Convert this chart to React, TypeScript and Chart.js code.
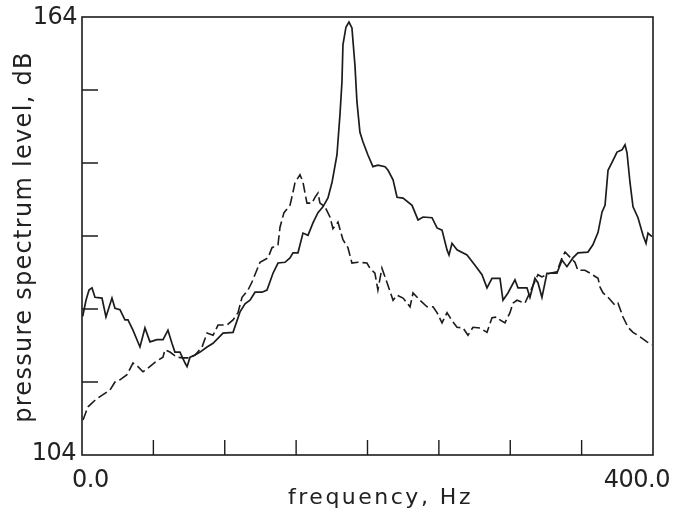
import React, { useEffect, useRef } from "react";
import { Chart, registerables } from "chart.js";

Chart.register(...registerables);

// Solid curve
const solidFreq = [0.5, 2.8, 4.9, 7.0, 9.1, 14.0, 16.8, 21.0, 23.1, 26.6, 30.1, 32.2, 35.7, 40.6, 44.1, 47.6, 52.5, 56.8, 60.2, 63.0, 65.1, 68.6, 72.2, 73.6, 75.7, 79.2, 82.7, 87.6, 91.8, 98.8, 105.8, 110.7, 114.2, 117.7, 121.2, 126.1, 129.6, 133.8, 137.3, 142.2, 145.7, 147.8, 151.3, 154.8, 158.3, 161.8, 165.3, 168.8, 172.3, 175.2, 178.6, 180.7, 182.1, 182.8, 184.9, 187.0, 189.1, 191.2, 192.6, 194.7, 196.8, 200.3, 203.8, 207.3, 212.3, 214.4, 217.9, 220.7, 224.9, 231.2, 235.4, 238.9, 245.2, 248.7, 252.2, 255.7, 257.1, 259.2, 262.7, 269.7, 275.3, 280.2, 283.7, 287.2, 292.8, 294.9, 298.4, 303.3, 305.4, 311.7, 313.8, 317.3, 319.4, 322.2, 325.7, 332.7, 336.2, 339.7, 343.9, 347.4, 354.4, 357.9, 361.5, 364.3, 366.4, 368.5, 371.3, 374.8, 378.3, 380.4, 381.8, 383.9, 386.0, 389.5, 393.0, 395.1, 396.5, 399.3];
const solidLevel = [123.0, 125.2, 126.6, 126.9, 125.6, 125.5, 122.9, 125.5, 124.1, 123.9, 122.5, 122.5, 121.1, 118.8, 121.4, 119.5, 119.8, 119.8, 121.1, 119.3, 118.1, 118.1, 116.6, 116.1, 117.4, 117.7, 118.1, 118.8, 119.3, 120.7, 120.8, 123.6, 124.7, 125.2, 126.3, 126.3, 126.6, 128.9, 130.3, 130.4, 131.0, 131.7, 131.7, 134.4, 134.1, 135.8, 137.2, 138.0, 139.2, 141.4, 145.1, 150.6, 155.1, 160.2, 162.6, 163.3, 162.5, 157.4, 152.4, 148.2, 146.9, 145.1, 143.5, 143.7, 143.5, 143.0, 141.7, 139.3, 139.2, 138.2, 136.2, 136.6, 136.5, 135.1, 134.8, 132.1, 131.4, 133.0, 132.1, 131.4, 130.0, 128.7, 126.9, 128.2, 128.2, 125.2, 126.2, 128.0, 126.9, 126.9, 125.6, 128.2, 127.6, 125.6, 128.9, 128.9, 130.7, 129.8, 131.0, 131.7, 131.8, 132.8, 134.5, 137.3, 138.2, 143.0, 144.1, 145.5, 145.8, 146.5, 145.4, 141.3, 138.0, 136.5, 134.1, 133.0, 134.4, 133.9];

// Dashed curve
const dashedFreq = [0.7, 2.8, 4.2, 9.1, 12.6, 19.6, 23.1, 26.6, 31.5, 35.7, 39.2, 42.7, 46.2, 51.1, 56.7, 58.1, 61.6, 66.5, 70.8, 75.7, 79.2, 84.1, 87.6, 91.8, 95.3, 101.6, 105.8, 109.3, 112.1, 116.3, 119.1, 124.7, 130.3, 133.1, 137.3, 138.7, 141.5, 145.7, 147.8, 149.2, 152.7, 154.8, 156.2, 157.6, 161.1, 163.2, 165.3, 166.7, 170.2, 173.7, 175.8, 179.3, 182.8, 186.3, 189.1, 193.3, 199.6, 201.7, 205.2, 207.3, 210.1, 213.7, 217.9, 220.7, 224.9, 229.8, 231.9, 236.8, 241.7, 245.9, 248.7, 252.2, 255.7, 259.2, 262.7, 266.9, 270.4, 273.9, 278.8, 283.7, 287.2, 290.7, 292.8, 296.3, 299.8, 301.9, 304.7, 310.3, 313.8, 319.4, 322.2, 327.8, 332.7, 336.2, 338.4, 341.8, 345.3, 347.4, 352.3, 355.9, 361.5, 362.9, 365.0, 368.5, 373.4, 375.5, 379.0, 382.5, 386.0, 390.9, 395.8, 399.3];
const dashedLevel = [108.8, 109.9, 110.6, 111.5, 112.0, 112.9, 114.0, 114.3, 115.0, 116.6, 116.1, 115.4, 115.9, 116.7, 117.4, 118.4, 118.1, 117.4, 117.3, 117.3, 117.7, 118.8, 120.7, 120.4, 121.8, 121.8, 122.5, 123.5, 125.6, 126.6, 127.7, 130.4, 131.0, 132.4, 132.8, 135.2, 137.2, 138.2, 140.0, 141.3, 142.4, 141.4, 139.9, 138.5, 138.5, 139.3, 139.9, 138.5, 138.0, 136.6, 135.0, 135.9, 133.5, 132.4, 130.3, 130.4, 130.3, 129.6, 128.9, 126.6, 129.6, 127.6, 125.2, 125.9, 125.5, 124.3, 126.2, 125.2, 124.3, 124.3, 123.5, 122.1, 123.5, 122.4, 121.5, 121.4, 120.4, 121.5, 121.4, 120.8, 122.8, 122.9, 122.5, 122.1, 123.5, 124.8, 125.2, 124.8, 126.3, 128.7, 128.4, 128.9, 129.1, 131.0, 131.8, 131.1, 130.4, 129.3, 129.3, 128.9, 128.2, 127.0, 126.2, 125.6, 124.5, 124.8, 122.9, 121.5, 120.8, 120.2, 119.5, 119.1];

// Axis ticks and labels
const xTickValues = [50, 100, 150, 200, 250, 300, 350];
const yTickValues = [114, 124, 134, 144, 154];
const xMin = 0;
const xMax = 400;
const yMin = 104;
const yMax = 164;
const xMinLabel = "0.0";
const xMaxLabel = "400.0";
const yMinLabel = "104";
const yMaxLabel = "164";
const xTitle = "frequency, Hz";
const yTitle = "pressure spectrum level, dB";

const toPoints = (xs: number[], ys: number[]) => xs.map((v, i) => ({ x: v, y: ys[i] }));

const INK = "#1c1c1c";

const decor = {
  id: "decor",
  afterDraw(chart: any) {
    const { ctx, chartArea: a, scales } = chart;
    const x = scales.x;
    const y = scales.y;
    ctx.save();
    ctx.strokeStyle = INK;
    ctx.lineWidth = 1.6;
    ctx.strokeRect(a.left, a.top, a.right - a.left, a.bottom - a.top);
    ctx.lineWidth = 1.4;
    ctx.beginPath();
    xTickValues.forEach((v) => {
      const px = x.getPixelForValue(v);
      ctx.moveTo(px, a.bottom);
      ctx.lineTo(px, a.bottom - 15);
    });
    yTickValues.forEach((v) => {
      const py = y.getPixelForValue(v);
      ctx.moveTo(a.left, py);
      ctx.lineTo(a.left + 16, py);
    });
    ctx.stroke();

    ctx.fillStyle = "#222";
    ctx.font = '24px "DejaVu Sans"';
    (ctx as any).letterSpacing = "-0.5px";
    ctx.textBaseline = "middle";
    ctx.textAlign = "right";
    ctx.fillText(yMaxLabel, a.left - 5, y.getPixelForValue(yMax) + 1);
    ctx.fillText(yMinLabel, a.left - 6, y.getPixelForValue(yMin) - 1);
    ctx.textBaseline = "alphabetic";
    ctx.textAlign = "left";
    ctx.fillText(xMinLabel, x.getPixelForValue(xMin) - 10, a.bottom + 32);
    ctx.textAlign = "right";
    ctx.fillText(xMaxLabel, x.getPixelForValue(xMax) + 17, a.bottom + 32);

    // x title
    ctx.font = '22px "DejaVu Sans"';
    (ctx as any).letterSpacing = "2.5px";
    ctx.textAlign = "center";
    ctx.fillText(xTitle, (a.left + a.right) / 2 + 13, a.bottom + 49);

    // y title
    ctx.font = '24px "DejaVu Sans"';
    (ctx as any).letterSpacing = "1.3px";
    ctx.translate(31, (a.top + a.bottom) / 2 + 1);
    ctx.rotate(-Math.PI / 2);
    ctx.textAlign = "center";
    ctx.fillText(yTitle, 0, 0);
    ctx.restore();
  },
};

export default function App() {
  const ref = useRef<HTMLCanvasElement | null>(null);
  useEffect(() => {
    if (!ref.current) return;
    const chart = new Chart(ref.current, {
      type: "line",
      data: {
        datasets: [
          {
            label: "solid",
            data: toPoints(solidFreq, solidLevel),
            borderColor: INK,
            borderWidth: 1.7,
            pointRadius: 0,
            tension: 0,
            fill: false,
          },
          {
            label: "dashed",
            data: toPoints(dashedFreq, dashedLevel),
            borderColor: INK,
            borderWidth: 1.6,
            borderDash: [10, 4],
            pointRadius: 0,
            tension: 0,
            fill: false,
          },
        ],
      },
      options: {
        animation: false,
        responsive: false,
        events: [],
        layout: { padding: { left: 82, right: 23, top: 17, bottom: 53 } },
        plugins: { legend: { display: false }, tooltip: { enabled: false }, title: { display: false } },
        scales: {
          x: { type: "linear", min: xMin, max: xMax, display: false },
          y: { type: "linear", min: yMin, max: yMax, display: false },
        },
      },
      plugins: [decor],
    });
    return () => chart.destroy();
  }, []);
  return (
    <div style={{ position: "fixed", left: 0, top: 0, width: 676, height: 508, background: "#fff" }}>
      <canvas ref={ref} width={676} height={508} style={{ width: 676, height: 508, display: "block" }} />
    </div>
  );
}
